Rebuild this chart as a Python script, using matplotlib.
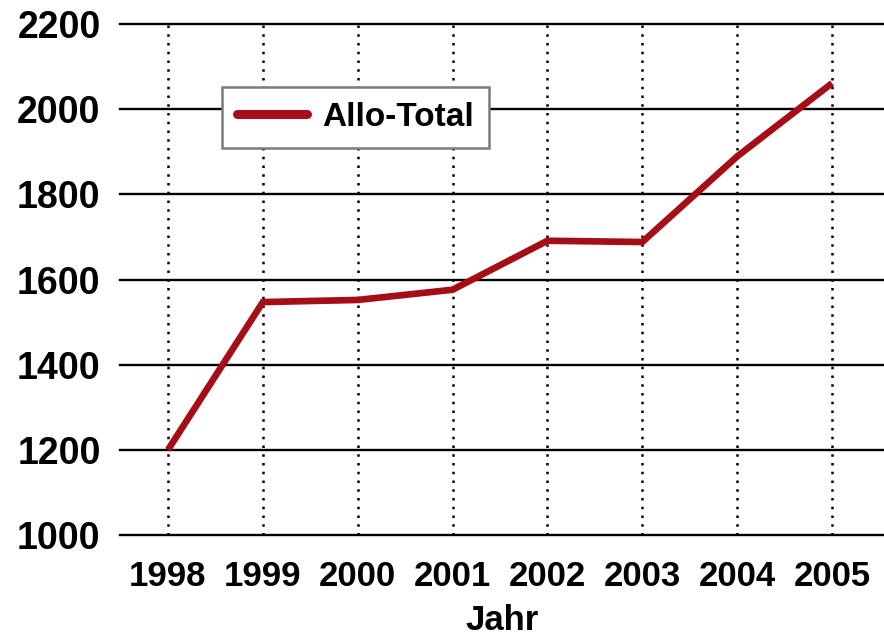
import matplotlib
matplotlib.use("Agg")
import matplotlib.pyplot as plt

plt.rcParams['font.family'] = ['Liberation Sans', 'DejaVu Sans']
plt.rcParams['font.weight'] = 'bold'

#### Data ####
years = [1998, 1999, 2000, 2001, 2002, 2003, 2004, 2005]
allo_total = [1200, 1547, 1552, 1576, 1691, 1688, 1889, 2061]
y_ticks = [1000, 1200, 1400, 1600, 1800, 2000, 2200]

red = '#a50d17'

fig = plt.figure(figsize=(8.84, 6.41), dpi=100)
ax = fig.add_axes([120/884, 106/641, 764/884, 511/641])

# dotted vertical lines at each year
for yr in years:
    ax.axvline(yr, color='black', lw=1.8, linestyle=(0, (1, 2.5)), zorder=1)
# solid horizontal grid lines
for yv in y_ticks:
    ax.axhline(yv, color='black', lw=1.7, zorder=2, clip_on=False)

ax.plot(years, allo_total, color=red, lw=4.8, solid_capstyle='butt',
        solid_joinstyle='miter', label='Allo-Total', zorder=3)

ax.set_xlim(1997.494, 2005.548)
ax.set_ylim(1000, 2200)
ax.set_xticks(years)
ax.set_yticks(y_ticks)
ax.tick_params(length=0)
ax.tick_params(axis='x', labelsize=25, pad=18)
ax.tick_params(axis='y', labelsize=27, pad=14)
for lab in ax.get_xticklabels() + ax.get_yticklabels():
    lab.set_fontweight('bold')
for s in ax.spines.values():
    s.set_visible(False)

ax.set_xlabel('Jahr', fontsize=25, fontweight='bold', labelpad=8)

leg = ax.legend(loc='upper left', bbox_to_anchor=(102/764, 1 - 63/511),
                borderaxespad=0, fontsize=24, handlelength=2.1,
                handletextpad=0.45, borderpad=0.45, frameon=True,
                fancybox=False)
leg.get_frame().set_edgecolor('#7a7a7a')
leg.get_frame().set_linewidth(1.8)
leg.get_frame().set_alpha(1)
for t in leg.get_texts():
    t.set_fontweight('bold')
for h in leg.get_lines():
    h.set_linewidth(6.5)
    h.set_solid_capstyle('round')

fig.savefig('out.png', dpi=100)
